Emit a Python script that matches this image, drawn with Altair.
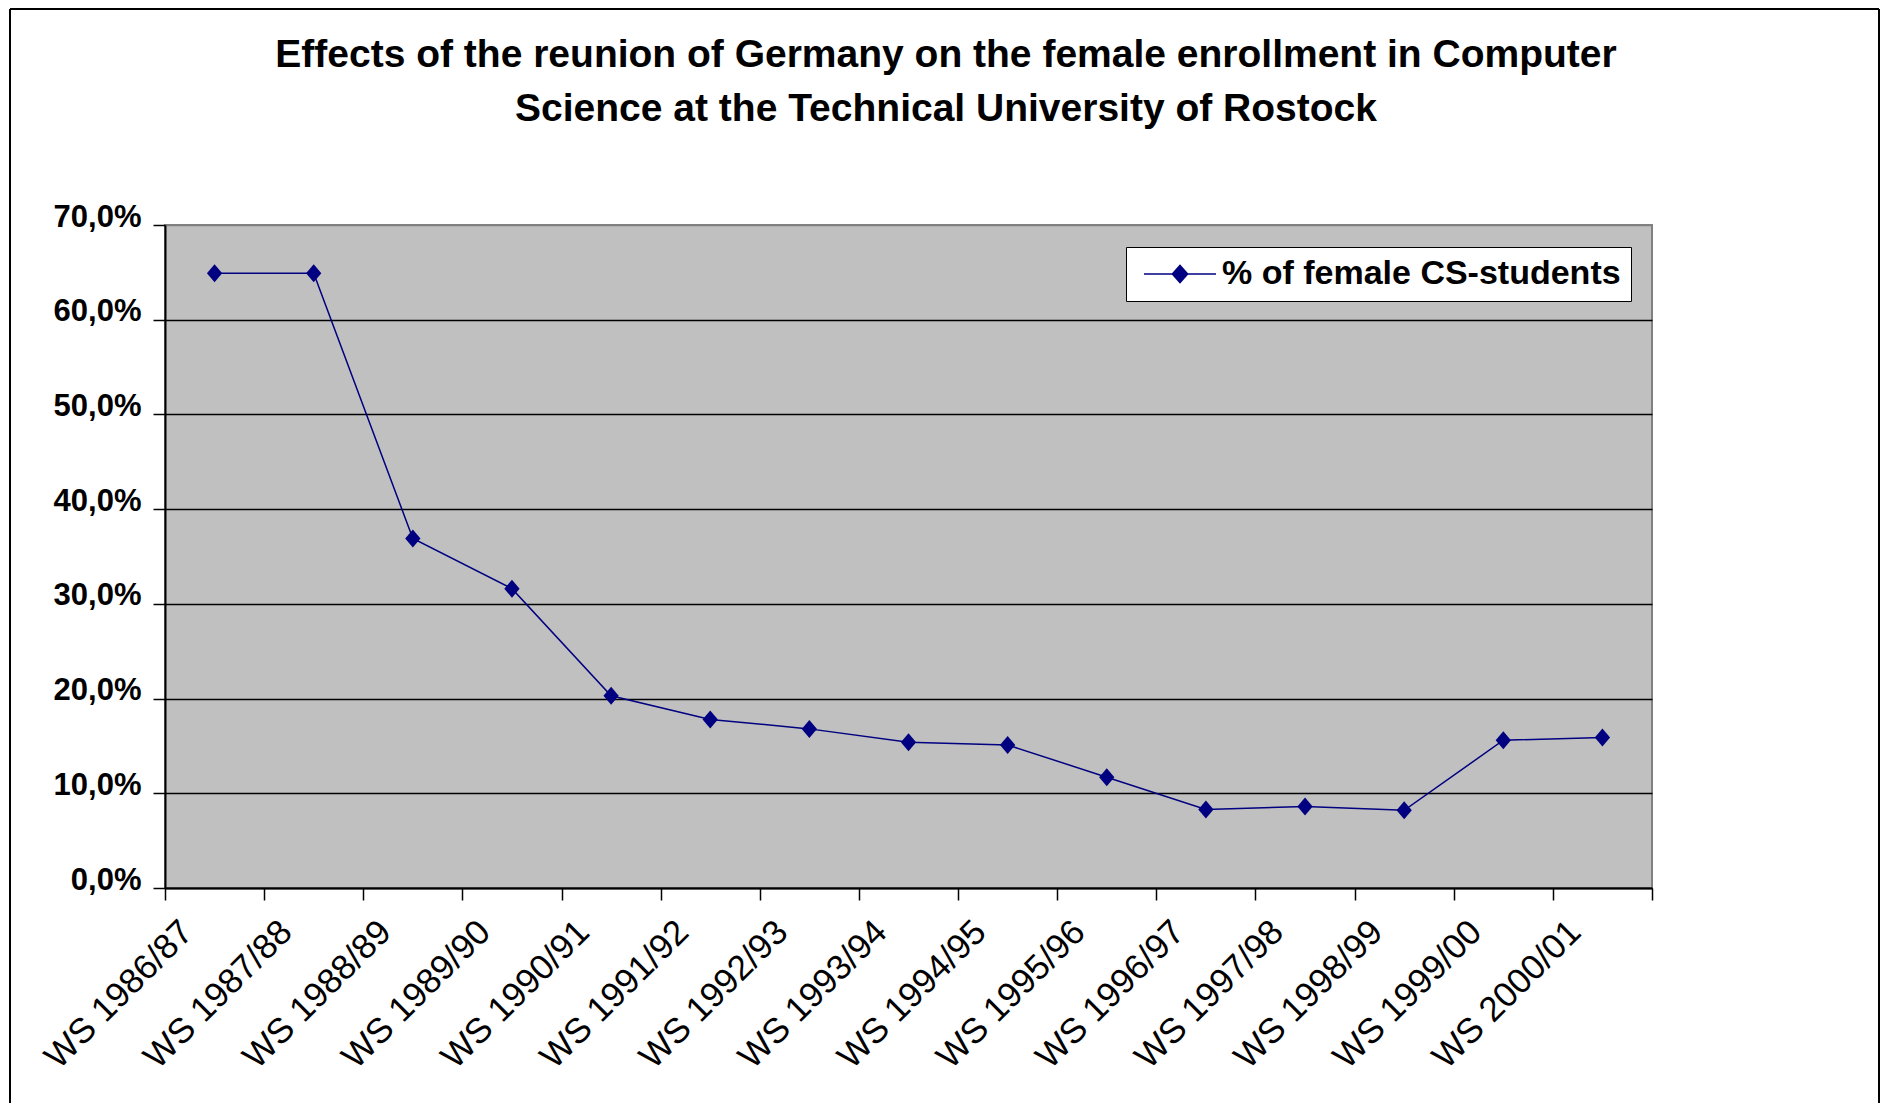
import altair as alt
import pandas as pd

# ---- data ----
categories = ["WS 1986/87", "WS 1987/88", "WS 1988/89", "WS 1989/90", "WS 1990/91",
              "WS 1991/92", "WS 1992/93", "WS 1993/94", "WS 1994/95", "WS 1995/96",
              "WS 1996/97", "WS 1997/98", "WS 1998/99", "WS 1999/00", "WS 2000/01"]
female_pct = [64.9, 64.9, 36.9, 31.6, 20.3, 17.8, 16.8, 15.4, 15.1, 11.7,
              8.3, 8.6, 8.2, 15.6, 15.9]
series_name = "% of female CS-students"
y_ticks = [0.0, 0.1, 0.2, 0.3, 0.4, 0.5, 0.6, 0.7]
title_lines = ["Effects of the reunion of Germany on the female enrollment in Computer",
               "Science at the Technical University of Rostock"]

df = pd.DataFrame({
    "semester": categories,
    "share": [v / 100 for v in female_pct],
    "series": [series_name] * len(categories),
})

NAVY = "#000080"
FONT = "Liberation Sans"
DIAMOND = "M-0.85,0L0,-1L0.85,0L0,1Z"

x_enc = alt.X(
    "semester:N", sort=categories,
    scale=alt.Scale(type="band", paddingInner=0, paddingOuter=0),
    axis=alt.Axis(
        title=None, labelAngle=-45, labelAlign="right", labelBaseline="middle",
        labelOffset=-28, labelPadding=26, tickBand="extent", tickSize=12,
        tickColor="black", tickWidth=1.5, domainColor="black", domainWidth=2,
        labelFont=FONT, labelFontSize=35, labelColor="black", grid=False,
        labelOverlap=False, labelLimit=400, labelFlush=False,
    ),
)
y_enc = alt.Y(
    "share:Q",
    scale=alt.Scale(domain=[0, 0.7], nice=False, zero=True),
    axis=alt.Axis(
        title=None, values=y_ticks,
        labelExpr="replace(format(datum.value, '.1%'), '.', ',')",
        tickSize=12, tickColor="black", tickWidth=1.5,
        domainColor="black", domainWidth=2,
        grid=True,
        gridColor={"condition": {"test": "datum.value >= 0.69", "value": "#808080"}, "value": "black"},
        gridWidth=1.5,
        labelFont=FONT, labelFontSize=31, labelFontWeight="bold", labelColor="black",
        labelOffset=-8, labelPadding=12,
    ),
)
color_enc = alt.Color(
    "series:N",
    scale=alt.Scale(domain=[series_name], range=[NAVY]),
    legend=alt.Legend(
        title=None, orient="none", legendX=961, legendY=22,
        fillColor="white", strokeColor="black", padding=10,
        labelFont=FONT, labelFontSize=34, labelFontWeight="bold", labelColor="black",
        labelOffset=52, labelLimit=1000,
        symbolType="M-1,0H7M2.15,0L3,-0.95L3.85,0L3,0.95Z", symbolSize=324,
        symbolStrokeWidth=1.5, symbolFillColor=NAVY, symbolStrokeColor=NAVY,
    ),
)

base = alt.Chart(df)
line = base.mark_line(strokeWidth=1.5).encode(x=x_enc, y=y_enc, color=color_enc)
points = base.mark_point(shape=DIAMOND, filled=True, size=324, opacity=1).encode(
    x=x_enc, y=y_enc, color=color_enc)

# outer chart-area border (decoration): left, top and right edges
one = pd.DataFrame({"f": [0]})
frame_left = alt.Chart(one).mark_rule(color="black", strokeWidth=2).encode(
    x=alt.value(-155), y=alt.value(-216), y2=alt.value(950))
frame_top = alt.Chart(one).mark_rule(color="black", strokeWidth=2).encode(
    x=alt.value(-155), x2=alt.value(1714), y=alt.value(-216))
frame_right = alt.Chart(one).mark_rule(color="black", strokeWidth=2).encode(
    x=alt.value(1714), y=alt.value(-216), y2=alt.value(950))

chart = alt.layer(frame_left, frame_top, frame_right, line, points).properties(
    width=1487, height=663,
    background="white",
    title=alt.TitleParams(
        text=title_lines, font=FONT, fontSize=39, fontWeight="bold", color="black",
        anchor="middle", frame="group", dx=37.5, lineHeight=54, baseline="bottom",
        offset=-160,
    ),
    autosize=alt.AutoSizeParams(type="none"),
    padding={"left": 157, "top": 217, "right": 228, "bottom": 215},
).configure_view(
    fill="#C0C0C0", stroke="#808080", strokeWidth=2
)

chart.save("out.html", embed_options={"renderer": "svg", "actions": False})
